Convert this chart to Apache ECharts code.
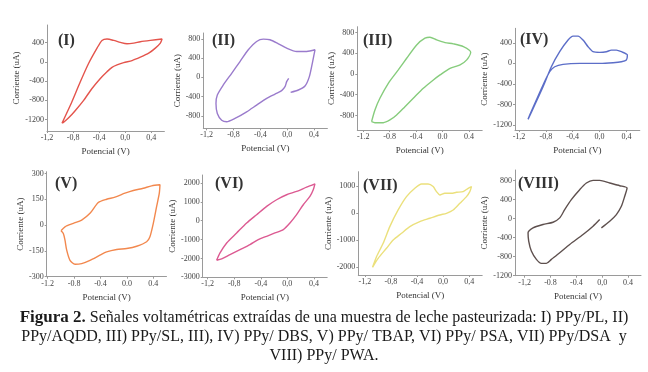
<!DOCTYPE html>
<html><head><meta charset="utf-8">
<script src="https://cdn.jsdelivr.net/npm/echarts@6/dist/echarts.min.js"></script>
<style>html,body{margin:0;padding:0;background:#fff}#c{width:648px;height:372px}</style>
</head><body><div id="c"></div>
<script>
// ---- tick values & labels ----
const xTicks = [-1.2, -0.8, -0.4, 0, 0.4];
const xLabComma = ['-1,2', '-0,8', '-0,4', '0,0', '0,4'];
const xLabDot = ['-1.2', '-0.8', '-0.4', '0.0', '0.4'];
const xLabMixed = ['-1,2', '-0.8', '-0.4', '0,0', '0.4'];
const yTicksI = [-1200, -800, -400, 0, 400];
const yTicksII = [-800, -400, 0, 400, 800];
const yTicksIII = [-800, -400, 0, 400, 800];
const yTicksIV = [-1200, -800, -400, 0, 400];
const yTicksV = [-300, -150, 0, 150, 300];
const yTicksVI = [-3000, -2000, -1000, 0, 1000, 2000];
const yTicksVII = [-2000, -1000, 0, 1000];
const yTicksVIII = [-1200, -800, -400, 0, 400, 800];
const panelNames = ['(I)', '(II)', '(III)', '(IV)', '(V)', '(VI)', '(VII)', '(VIII)'];

// ---- series data: potential (V) and current (uA) ----
const potI = [-0.970,-0.842,-0.689,-0.561,-0.433,-0.357,-0.280,-0.178,-0.075,0.027,0.129,0.231,0.385,0.564,0.538,0.461,0.359,0.231,0.104,-0.024,-0.126,-0.203,-0.280,-0.382,-0.510,-0.638,-0.765,-0.868,-0.944];
const curI = [-1277,-905,-414,-28,288,449,477,449,407,379,393,421,449,477,393,288,182,98,28,-14,-63,-112,-204,-344,-554,-800,-1011,-1165,-1256];

const potII = [0.052,0.167,0.266,0.331,0.380,0.415,0.291,0.142,-0.007,-0.131,-0.256,-0.355,-0.455,-0.579,-0.703,-0.827,-0.952,-1.041,-1.061,-1.041,-0.976,-0.902,-0.778,-0.604,-0.455,-0.305,-0.181,-0.082,-0.032,-0.007,0.023];
const curII = [-313,-264,-181,14,327,571,536,536,605,696,779,793,744,571,327,83,-160,-369,-543,-751,-891,-925,-856,-717,-577,-438,-348,-278,-195,-90,-21];

const potIII = [-1.074,-1.023,-0.948,-0.821,-0.670,-0.543,-0.392,-0.266,-0.190,-0.089,0.037,0.164,0.315,0.426,0.366,0.265,0.113,-0.038,-0.139,-0.291,-0.443,-0.569,-0.695,-0.796,-0.897,-1.023];
const curIII = [-919,-694,-469,-180,77,302,559,688,707,656,604,579,527,418,270,174,109,-19,-116,-276,-469,-630,-791,-887,-939,-939];

const potIV = [-1.066,-0.966,-0.842,-0.718,-0.594,-0.469,-0.395,-0.320,-0.246,-0.171,-0.097,0.003,0.102,0.177,0.251,0.326,0.415,0.400,0.326,0.202,0.003,-0.295,-0.544,-0.668,-0.743,-0.842,-0.942,-1.041];
const curIV = [-1084,-806,-452,-65,226,452,529,529,452,323,226,213,226,258,258,226,161,65,32,13,0,0,-19,-65,-161,-419,-710,-1000];

const potV = [-0.998,-0.938,-0.811,-0.685,-0.559,-0.433,-0.307,-0.180,-0.029,0.097,0.248,0.375,0.501,0.491,0.450,0.400,0.349,0.299,0.148,-0.004,-0.155,-0.307,-0.408,-0.559,-0.685,-0.786,-0.862,-0.912,-0.938,-0.963];
const curV = [-33,-10,10,29,68,131,150,162,185,201,214,228,234,185,107,10,-68,-97,-123,-136,-142,-156,-175,-205,-224,-228,-205,-146,-88,-49];

const potVI = [-1.065,-1.014,-0.914,-0.764,-0.613,-0.463,-0.312,-0.162,-0.011,0.139,0.290,0.415,0.390,0.340,0.240,0.139,0.039,-0.061,-0.187,-0.312,-0.438,-0.563,-0.713,-0.864,-0.989];
const curVI = [-2094,-1707,-1179,-651,-123,317,757,1109,1373,1549,1778,1954,1637,1285,845,317,-123,-475,-651,-827,-1003,-1267,-1531,-1795,-2024];

const potVII = [-1.082,-1.021,-0.919,-0.817,-0.689,-0.561,-0.433,-0.331,-0.229,-0.152,-0.101,-0.050,0.027,0.129,0.206,0.308,0.385,0.436,0.410,0.359,0.257,0.155,0.052,-0.050,-0.203,-0.357,-0.510,-0.638,-0.765,-0.868,-0.996];
const curVII = [-2001,-1606,-1112,-494,124,618,926,1087,1087,988,803,679,741,741,778,803,926,988,803,618,371,124,0,-62,-185,-309,-494,-741,-988,-1297,-1667];

const potVIII = [-0.039,-0.142,-0.297,-0.503,-0.658,-0.787,-0.865,-0.942,-1.019,-1.097,-1.138,-1.148,-1.071,-0.916,-0.761,-0.658,-0.581,-0.478,-0.349,-0.245,-0.142,-0.039,0.116,0.271,0.384,0.348,0.296,0.219,0.116,-0.013];
const curVIII = [-21,-160,-335,-544,-718,-857,-941,-941,-857,-683,-474,-300,-195,-125,-77,14,188,397,606,746,802,802,746,690,641,467,258,84,-56,-195];

// ---- layout & style (not data) ----
const panels = [
  {pot: potI, cur: curI, yT: yTicksI, xL: xLabComma, closed: true, color: '#e4544c', g: [47, 25, 117.4, 106], x: [-1.2, 0.6], y: [-1440, 770], lab: [58, 33]},
  {pot: potII, cur: curII, yT: yTicksII, xL: xLabComma, closed: false, color: '#9a7bcc', g: [203.3, 33, 124.1, 95.3], x: [-1.25, 0.6], y: [-1060, 920], lab: [212, 33]},
  {pot: potIII, cur: curIII, yT: yTicksIII, xL: xLabDot, closed: true, color: '#86cc7c', g: [357.3, 26.7, 124.9, 103.3], x: [-1.29, 0.6], y: [-1080, 910], lab: [363, 33]},
  {pot: potIV, cur: curIV, yT: yTicksIV, xL: xLabComma, closed: true, color: '#5c6ec8', g: [515, 28.3, 124.8, 101.7], x: [-1.26, 0.6], y: [-1290, 680], lab: [520, 32]},
  {pot: potV, cur: curV, yT: yTicksV, xL: xLabDot, closed: true, color: '#f2884e', g: [46.7, 171.7, 119.8, 105], x: [-1.215, 0.6], y: [-300, 310], lab: [55, 176]},
  {pot: potVI, cur: curVI, yT: yTicksVI, xL: xLabComma, closed: true, color: '#dc5a92', g: [202.7, 175, 124.5, 102.3], x: [-1.275, 0.6], y: [-3000, 2420], lab: [215, 176]},
  {pot: potVII, cur: curVII, yT: yTicksVII, xL: xLabComma, closed: true, color: '#ebe07c', g: [358.3, 171.7, 123.9, 103.3], x: [-1.30, 0.6], y: [-2285, 1540], lab: [363, 178]},
  {pot: potVIII, cur: curVIII, yT: yTicksVIII, xL: xLabMixed, closed: false, color: '#5e504e', g: [515, 170, 126, 105.7], x: [-1.35, 0.6], y: [-1200, 1020], lab: [518, 176]}
];

const FONT = 'Liberation Serif';
const grid = [], xAxis = [], yAxis = [], series = [], graphic = [];
panels.forEach((p, k) => {
  grid.push({left: p.g[0], top: p.g[1], width: p.g[2], height: p.g[3], containLabel: false});
  xAxis.push({
    type: 'value', gridIndex: k, min: p.x[0], max: p.x[1],
    splitLine: {show: false},
    axisLine: {show: true, onZero: false, lineStyle: {color: '#9a9a9a', width: 1}},
    axisTick: {show: true, customValues: xTicks, length: 2, lineStyle: {color: '#9a9a9a'}},
    axisLabel: {customValues: xTicks, formatter: (v) => p.xL[xTicks.findIndex(t => Math.abs(t - v) < 1e-6)],
      fontFamily: FONT, fontSize: 8, color: '#444', margin: 3},
    name: 'Potencial (V)', nameLocation: 'middle', nameGap: 16,
    nameTextStyle: {fontFamily: FONT, fontSize: 9, color: '#333'}
  });
  yAxis.push({
    type: 'value', gridIndex: k, min: p.y[0], max: p.y[1],
    splitLine: {show: false},
    axisLine: {show: true, onZero: false, lineStyle: {color: '#9a9a9a', width: 1}},
    axisTick: {show: true, customValues: p.yT, length: 2, lineStyle: {color: '#9a9a9a'}},
    axisLabel: {customValues: p.yT, formatter: (v) => String(Math.round(v)),
      fontFamily: FONT, fontSize: 8, color: '#444', margin: 3},
    name: 'Corriente (uA)', nameLocation: 'middle', nameGap: 19,
    nameTextStyle: {fontFamily: FONT, fontSize: 9, color: '#333'}
  });
  const data = p.pot.map((v, j) => [v, p.cur[j]]);
  if (p.closed) data.push(data[0]);
  series.push({
    type: 'line', xAxisIndex: k, yAxisIndex: k, data: data,
    showSymbol: false, smooth: 0.25, silent: true,
    lineStyle: {color: p.color, width: 1.4}
  });
  graphic.push({type: 'text', left: p.lab[0], top: p.lab[1],
    style: {text: panelNames[k], font: 'bold 16px "Liberation Serif"', fill: '#333'}});
});

const capLine1 = 'Señales voltamétricas extraídas de una muestra de leche pasteurizada: I) PPy/PL, II)';
const capLine2 = 'PPy/AQDD, III) PPy/SL, III), IV) PPy/ DBS, V) PPy/ TBAP, VI) PPy/ PSA, VII) PPy/DSA  y';
const capLine3 = 'VIII) PPy/ PWA.';
const capStyle = {fontFamily: FONT, fontSize: 16, fill: '#1a1a1a', align: 'center', verticalAlign: 'middle'};
graphic.push({type: 'text', x: 324, y: 318, style: Object.assign({}, capStyle, {
  text: '{b|Figura 2.} ' + capLine1,
  rich: {b: {fontFamily: FONT, fontSize: 17, fontWeight: 'bold', fill: '#1a1a1a'}}})});
graphic.push({type: 'text', x: 324, y: 337, style: Object.assign({}, capStyle, {text: capLine2})});
graphic.push({type: 'text', x: 324, y: 356, style: Object.assign({}, capStyle, {text: capLine3})});

const chart = echarts.init(document.getElementById('c'), null, {renderer: 'canvas'});
chart.setOption({animation: false, backgroundColor: '#fff', grid, xAxis, yAxis, series, graphic});
</script></body></html>
